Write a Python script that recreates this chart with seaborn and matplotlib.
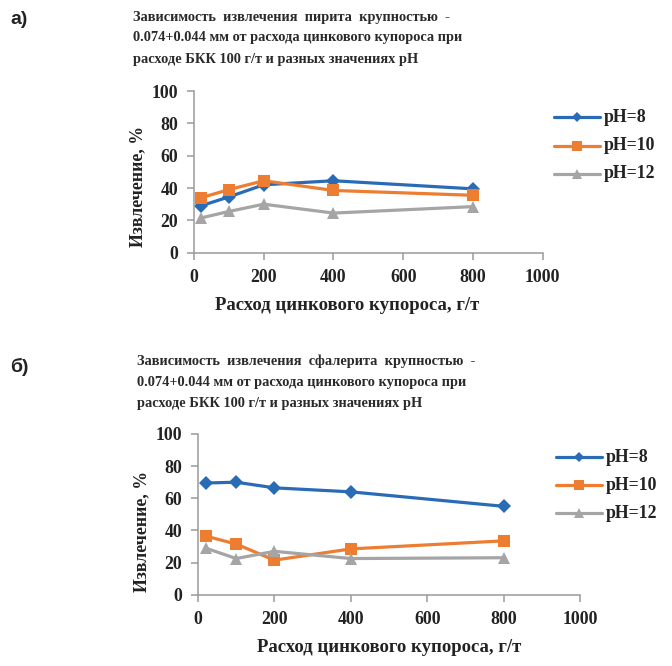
import matplotlib
matplotlib.use("Agg")
import matplotlib.pyplot as plt
import seaborn as sns
import pandas as pd
from matplotlib.lines import Line2D

# ---------------- data ----------------
x_dose = [20, 100, 200, 400, 800]
series_names = ["pH=8", "pH=10", "pH=12"]

pyrite_ph8 = [29, 34.5, 42, 44.5, 39.5]
pyrite_ph10 = [34, 39, 44.5, 38.5, 35.5]
pyrite_ph12 = [21.5, 25.5, 30, 24.5, 28.5]

sphal_ph8 = [69.5, 70, 66.5, 64, 55]
sphal_ph10 = [36.5, 31.5, 21.5, 28.5, 33.5]
sphal_ph12 = [29, 22.5, 27, 22.5, 23]

title_a = ["Зависимость  извлечения  пирита  крупностью  -",
           "0.074+0.044 мм от расхода цинкового купороса при",
           "расходе БКК 100 г/т и разных значениях рН"]
title_b = ["Зависимость  извлечения  сфалерита  крупностью  -",
           "0.074+0.044 мм от расхода цинкового купороса при",
           "расходе БКК 100 г/т и разных значениях рН"]
xlabel = "Расход цинкового купороса, г/т"
ylabel = "Извлечение, %"
x_ticks = [0, 200, 400, 600, 800, 1000]
y_ticks = [0, 20, 40, 60, 80, 100]

colors = {"pH=8": "#2A6BB5", "pH=10": "#ED7D31", "pH=12": "#A5A5A5"}
markers = {"pH=8": "D", "pH=10": "s", "pH=12": "^"}
msizes = {"pH=8": 7, "pH=10": 9, "pH=12": 9}

sns.set_theme(style="white")
plt.rcParams["font.family"] = ["Liberation Serif", "DejaVu Serif"]

W, H = 672, 666
fig = plt.figure(figsize=(W / 100, H / 100), dpi=100)


def fx(px):
    return px / W


def fy(py):
    return 1 - py / H


def make_df(vals):
    rows = []
    for name, v in zip(series_names, vals):
        for xv, yv in zip(x_dose, v):
            rows.append({"x": xv, "y": yv, "series": name})
    return pd.DataFrame(rows)


def panel(rect, vals, title_lines, tx, ty0, label, ly, xlab_pos, ylab_pos, leg_x, leg_ys):
    ax = fig.add_axes(rect)
    df = make_df(vals)
    sns.lineplot(data=df, x="x", y="y", hue="series", style="series",
                 palette=colors, markers=markers, dashes=False,
                 hue_order=series_names, style_order=series_names,
                 linewidth=2.3, markeredgewidth=0, legend=False, ax=ax)
    for line, name in zip(ax.lines, series_names):
        line.set_markersize(msizes[name])
    ax.set_xlim(0, 1000)
    ax.set_ylim(0, 100)
    ax.set_xticks(x_ticks)
    ax.set_yticks(y_ticks)
    ax.set_xlabel("")
    ax.set_ylabel("")
    for s in ["top", "right"]:
        ax.spines[s].set_visible(False)
    for s in ["left", "bottom"]:
        ax.spines[s].set_color("#9A9A9A")
        ax.spines[s].set_linewidth(1.1)
    ax.tick_params(axis="both", which="major", length=5, width=1.1,
                   color="#9A9A9A", direction="out", pad=6.5,
                   labelsize=12.8, left=True, bottom=True)
    for t in ax.get_xticklabels() + ax.get_yticklabels():
        t.set_fontweight("bold")
        t.set_color("#222222")
    for ln in ax.lines:
        ln.set_clip_on(False)

    # title
    for i, line in enumerate(title_lines):
        fig.text(fx(tx), fy(ty0 + 21 * i), line, ha="left", va="center",
                 fontsize=10.4, fontweight="bold", color="#2A2A2A")
    # panel label
    fig.text(fx(10), fy(ly), label, ha="left", va="center", fontsize=14,
             fontweight="bold", color="#222222",
             family=["Liberation Sans", "DejaVu Sans"])
    # axis labels
    fig.text(fx(xlab_pos[0]), fy(xlab_pos[1]), xlabel, ha="center", va="center",
             fontsize=13.5, fontweight="bold", color="#222222")
    fig.text(fx(ylab_pos[0]), fy(ylab_pos[1]), ylabel, ha="center", va="center",
             rotation=90, fontsize=12.8, fontweight="bold", color="#222222")
    # legend
    for name, ly_ in zip(series_names, leg_ys):
        fig.add_artist(Line2D([fx(leg_x), fx(leg_x + 46)], [fy(ly_), fy(ly_)],
                              color=colors[name], lw=2.3,
                              transform=fig.transFigure))
        fig.add_artist(Line2D([fx(leg_x + 23)], [fy(ly_)], color=colors[name],
                              marker=markers[name], ms=msizes[name] * 0.75,
                              mew=0, transform=fig.transFigure))
        fig.text(fx(leg_x + 50), fy(ly_), name, ha="left", va="center",
                 fontsize=12.8, fontweight="bold", color="#222222")
    return ax


panel([fx(194), fy(252.7), fx(542.7) - fx(194), fy(91) - fy(252.7)],
      [pyrite_ph8, pyrite_ph10, pyrite_ph12], title_a, 133, 17, "а)", 19,
      (347, 305), (138, 187), 554, [117, 146, 174])

panel([fx(198), fy(594.7), fx(580) - fx(198), fy(434) - fy(594.7)],
      [sphal_ph8, sphal_ph10, sphal_ph12], title_b, 137, 361.7, "б)", 367,
      (389, 647), (142, 531), 556, [457, 485, 513])

fig.savefig("out.png", dpi=100)
